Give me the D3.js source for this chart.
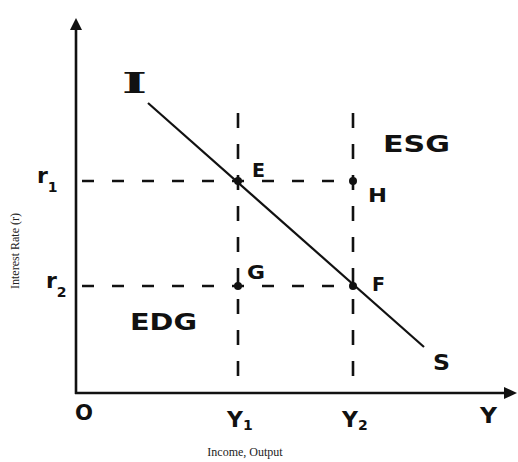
<!DOCTYPE html>
<html><head><meta charset="utf-8">
<script src="https://cdn.jsdelivr.net/npm/d3@7"></script>
<style>html,body{margin:0;padding:0;background:#fff;}svg{display:block;}</style>
</head><body>
<svg id="c" width="518" height="462"></svg>
<script>
// ---- data ----
const incomeNames = ["Y", "Y"];
const incomeSubs = ["1", "2"];
const incomeValues = [162, 277];
const rateNames = ["r", "r"];
const rateSubs = ["1", "2"];
const rateValues = [212, 107];
const isCurveX = [72, 348];
const isCurveY = [290, 46];
const pointNames = ["E", "H", "G", "F"];
const pointIncome = [162, 277, 162, 277];
const pointRate = [212, 212, 107, 107];
const regionNames = ["ESG", "EDG"];
const regionIncome = [307, 54];
const regionRate = [241, 63];
const axisTitleX = "Income, Output";
const axisTitleY = "Interest Rate (r)";

// ---- drawing ----
const svg = d3.select("#c");
const x = d3.scaleLinear().domain([0, 440]).range([76, 516]);
const y = d3.scaleLinear().domain([0, 375]).range([393, 18]);
const ink = "#111";
const hand = "'DejaVu Sans', sans-serif";

// dashed guides
incomeValues.forEach(v => {
  svg.append("line").attr("x1", x(v)).attr("x2", x(v))
    .attr("y1", y(280)).attr("y2", y(0))
    .attr("stroke", ink).attr("stroke-width", 2.6).attr("stroke-dasharray", "15 16");
});
rateValues.forEach(v => {
  svg.append("line").attr("x1", x(0)).attr("x2", x(277))
    .attr("y1", y(v)).attr("y2", y(v))
    .attr("stroke", ink).attr("stroke-width", 2.6).attr("stroke-dasharray", "0 6 12 12");
});

// axes
svg.append("line").attr("x1", x(0)).attr("x2", x(0)).attr("y1", y(0) + 1).attr("y2", y(365))
  .attr("stroke", ink).attr("stroke-width", 2.6);
svg.append("line").attr("x1", x(0) - 1).attr("x2", x(432)).attr("y1", y(0)).attr("y2", y(0))
  .attr("stroke", ink).attr("stroke-width", 2.6);
svg.append("path").attr("d", `M${x(0)},${y(375)} L${x(0) - 6},${y(363)} L${x(0) + 6},${y(363)} Z`).attr("fill", ink);
svg.append("path").attr("d", `M${x(441)},${y(0)} L${x(428)},${y(0) - 6} L${x(428)},${y(0) + 6} Z`).attr("fill", ink);

// IS line
const line = d3.line().x(d => x(d[0])).y(d => y(d[1]));
svg.append("path").datum(d3.zip(isCurveX, isCurveY)).attr("d", line)
  .attr("fill", "none").attr("stroke", ink).attr("stroke-width", 2.2);

// points
pointNames.forEach((n, i) => {
  svg.append("circle").attr("cx", x(pointIncome[i])).attr("cy", y(pointRate[i])).attr("r", 4).attr("fill", ink);
});

function label(t, px, py, size, w, anchor) {
  const el = svg.append("text").attr("x", px).attr("y", py).text(t)
    .attr("font-family", hand).attr("font-size", size).attr("fill", ink)
    .attr("text-anchor", anchor || "start").attr("font-weight", "bold");
  if (w) el.attr("textLength", w).attr("lengthAdjust", "spacingAndGlyphs");
  return el;
}

// point labels (offsets in pixels from the point)
const pOff = [[14, -4], [15, 21], [9, -7], [19, 5]];
const pW = [13, 19, 18, 13];
pointNames.forEach((n, i) => {
  const bx = x(pointIncome[i]) + pOff[i][0];
  const by = y(pointRate[i]) + pOff[i][1];
  label(n, bx, by, 19, pW[i]);
});
// I and S ends
svg.append("text").attr("x", x(isCurveX[0]) - 26).attr("y", y(isCurveY[0]) - 10).text("I")
  .attr("font-family", "'DejaVu Serif', serif").attr("font-weight", "bold").attr("font-size", 28)
  .attr("textLength", 25).attr("lengthAdjust", "spacingAndGlyphs").attr("fill", ink);
label("S", x(isCurveX[1]) + 9, y(isCurveY[1]) + 23, 22, 17);

// regions
regionNames.forEach((n, i) => label(n, x(regionIncome[i]), y(regionRate[i]), 23, 67));

// axis tick labels
label("O", x(0) - 1, 420, 22, 18);
incomeValues.forEach((v, i) => {
  const t = label(incomeNames[i], x(v) - 11, 427, 22, 16);
  t.append("tspan").attr("dy", 3).attr("font-size", 14).text(incomeSubs[i]);
  t.attr("textLength", null);
});
label("Y", 480, 423, 22, 17);
rateValues.forEach((v, i) => {
  const t = svg.append("text").attr("x", i === 0 ? 37 : 46).attr("y", y(v) + 2)
    .attr("font-family", hand).attr("font-weight", "bold").attr("font-size", 22).attr("fill", ink).text(rateNames[i]);
  t.append("tspan").attr("dy", 9).attr("font-size", 14).text(rateSubs[i]);
});

// axis titles
svg.append("text").attr("x", 245).attr("y", 456).attr("text-anchor", "middle")
  .attr("font-family", "'Liberation Serif', serif").attr("font-size", 12).attr("fill", "#222").text(axisTitleX);
svg.append("text").attr("transform", "translate(19,251) rotate(-90)").attr("text-anchor", "middle")
  .attr("font-family", "'Liberation Serif', serif").attr("font-size", 12).attr("fill", "#222").text(axisTitleY);
</script>
</body></html>
